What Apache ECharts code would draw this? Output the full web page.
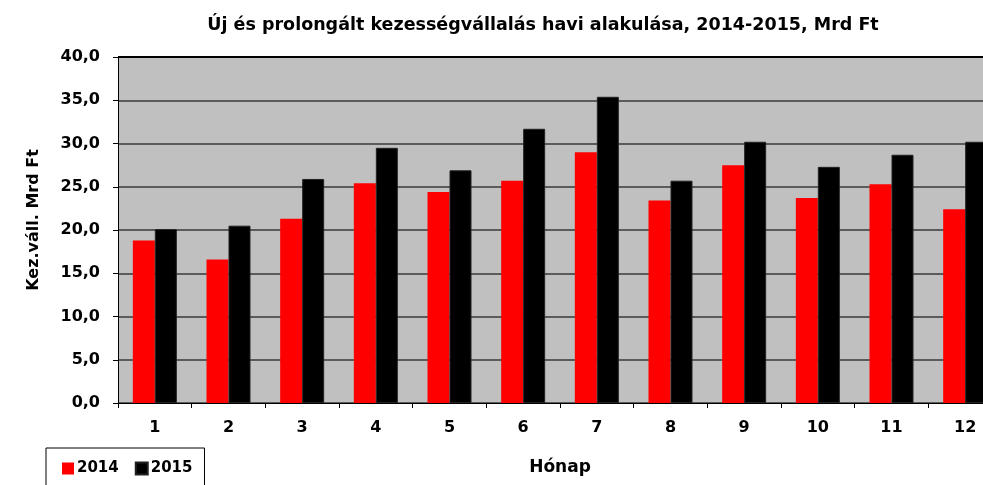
<!DOCTYPE html>
<html>
<head>
<meta charset="utf-8">
<script src="https://cdn.jsdelivr.net/npm/echarts@6/dist/echarts.min.js"></script>
<style>
  html, body { margin: 0; padding: 0; background: #fff; overflow: hidden; }
  #chart { width: 1002px; height: 485px; }
</style>
</head>
<body>
<div id="chart"></div>
<script>
const echarts = window.echarts

// hónapok
const months = ['1', '2', '3', '4', '5', '6', '7', '8', '9', '10', '11', '12']
// Mrd Ft
const values2014 = [18.8, 16.6, 21.3, 25.4, 24.4, 25.7, 29.0, 23.4, 27.5, 23.7, 25.3, 22.4]
const values2015 = [20.1, 20.5, 25.9, 29.5, 26.9, 31.7, 35.4, 25.7, 30.2, 27.3, 28.7, 30.2]

const font = 'DejaVu Sans, Verdana, sans-serif'

// a rajzterület jobb széle kilóg az ablakból (mint az eredetin)
let myChart = echarts.init(document.getElementById('chart'))
let option = {
  animation: false,
  title: {
    text: 'Új és prolongált kezességvállalás havi alakulása, 2014-2015, Mrd Ft',
    left: 538,
    textAlign: 'center',
    top: 11,
    textStyle: { fontFamily: font, fontSize: 17.5, fontWeight: 'bold', color: '#000' }
  },
  legend: {
    left: 46,
    top: 448,
    icon: 'rect',
    itemWidth: 12,
    itemHeight: 12,
    itemGap: 16,
    padding: [13, 12, 14, 16],
    borderColor: '#000',
    borderWidth: 1,
    textStyle: { fontFamily: font, fontSize: 15, fontWeight: 'bold', color: '#000', padding: [0, 0, 0, -2] },
    data: ['2014', '2015']
  },
  graphic: [{
    type: 'text',
    x: 34,
    y: 220,
    rotation: Math.PI / 2,
    style: {
      text: 'Kez.váll. Mrd Ft',
      textAlign: 'center',
      textVerticalAlign: 'middle',
      fontFamily: font,
      fontSize: 16,
      fontWeight: 'bold',
      fill: '#000'
    }
  }, {
    // felső keretvonal
    type: 'rect',
    shape: { x: 118, y: 56, width: 884, height: 2 },
    style: { fill: '#000' },
    z: 10
  }],
  grid: {
    left: 118,
    right: 0,
    top: 57,
    bottom: 82,
    show: true,
    backgroundColor: '#c0c0c0',
    borderWidth: 0
  },
  xAxis: {
    type: 'category',
    data: months,
    name: 'Hónap',
    nameLocation: 'middle',
    nameGap: 56,
    nameTextStyle: { fontFamily: font, fontSize: 17, fontWeight: 'bold', color: '#000' },
    axisLine: { lineStyle: { color: '#000', width: 1 } },
    axisTick: { show: true, length: 5, lineStyle: { color: '#000' } },
    axisLabel: { margin: 17, fontFamily: font, fontSize: 16, fontWeight: 'bold', color: '#000' }
  },
  yAxis: {
    type: 'value',
    min: 0,
    max: 40,
    interval: 5,
    axisLine: { show: true, lineStyle: { color: '#000', width: 1 } },
    axisTick: { show: true, length: 5, lineStyle: { color: '#000' } },
    axisLabel: {
      margin: 18,
      fontFamily: font,
      fontSize: 16,
      fontWeight: 'bold',
      color: '#000',
      formatter: v => v.toFixed(1).replace('.', ',')
    },
    splitLine: { show: true, lineStyle: { color: '#3a3a3a', width: 1.5 } }
  },
  series: [
    {
      name: '2014',
      type: 'bar',
      data: values2014,
      barWidth: 22,
      barGap: '0%',
      itemStyle: { color: '#ff0000' }
    },
    {
      name: '2015',
      type: 'bar',
      data: values2015,
      barWidth: 22,
      barGap: '0%',
      itemStyle: { color: '#000000', borderColor: '#222', borderWidth: 1 }
    }
  ]
}
myChart.setOption(option)
</script>
</body>
</html>
